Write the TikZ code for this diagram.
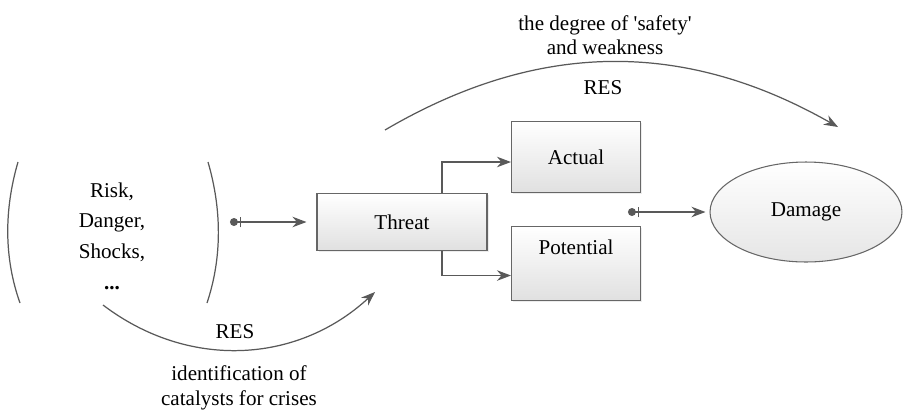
\documentclass[tikz,border=0pt]{standalone}
\usepackage{fontspec}
\setmainfont{Liberation Serif}
\usetikzlibrary{arrows.meta,shapes.geometric,shadows}

\begin{document}
\begin{tikzpicture}[x=0.02cm, y=-0.02cm, font=\fontsize{12}{14}\selectfont,
    box/.style = {rectangle, draw=black!60, line width=0.6pt, top color=white, bottom color=black!12,
        drop shadow={opacity=0.15, shadow xshift=1pt, shadow yshift=-1pt}},
    txt/.style = {align=center, inner sep=1pt},
    line/.style = {draw=black!65, line width=0.7pt},
    tip/.style = {-{Stealth[length=8pt,width=6pt]}},
    both/.style = {{Circle[length=4.5pt] Bar[width=6pt,sep=1pt]}-{Stealth[length=8pt,width=6pt]}}]
    \useasboundingbox (0,0) rectangle (903,410);

    % Nodes
    \node[txt] (factors) at (112,236) {Risk,\\[3.5pt]Danger,\\[3.5pt]Shocks,\\[3.5pt]\textbf{...}};
    \node[box, minimum width=3.4cm, minimum height=1.14cm] (threat) at (402,222) {Threat};
    \node[box, minimum width=2.58cm, minimum height=1.42cm] (actual) at (576,157) {Actual};
    \node[box, minimum width=2.58cm, inner ysep=0pt, text height=0.56cm, text depth=0.92cm,
        anchor=north] (potential) at (576,226) {Potential};
    \node[ellipse, draw=black!60, line width=0.6pt, top color=white, bottom color=black!10,
        minimum width=3.84cm, minimum height=2cm] (damage) at (806,212) {Damage};

    % Labels
    \node[txt] (safety) at (605,35) {the degree of \textquotesingle safety\textquotesingle\\and weakness};
    \node[txt] (restop) at (603,88) {RES};
    \node[txt] (resbot) at (235,332) {RES};
    \node[txt] (catalysts) at (239,388) {identification of\\catalysts for crises};

    % Brackets
    \draw[line] (18,162) .. controls (4,210) and (4,258) .. (20,303);
    \draw[line] (208,162) .. controls (222,210) and (222,258) .. (207,303);

    % Points
    \coordinate (a1) at (230,222);
    \coordinate (b1) at (628,212);
    \coordinate (t1) at (385,130);
    \coordinate (t2) at (838,127);
    \coordinate (s1) at (103,305);
    \coordinate (s2) at (375,292);
    \coordinate (fork) at (442,222);

    % Lines
    \draw[line, both, shorten >=10*0.02cm] (a1) -- (a1 -| threat.west);
    \draw[line, both, shorten >=4*0.02cm] (b1) -- (b1 -| damage.west);
    \draw[line, tip] (threat.north -| fork) |- ([yshift=-5*0.02cm]actual.west);
    \draw[line, tip] (threat.south -| fork) |- ([yshift=-12*0.02cm]potential.west);
    \draw[line, tip] (t1) to[bend left=30] (t2);
    \draw[line, tip] (s1) to[bend right=40] (s2);
\end{tikzpicture}
\end{document}
